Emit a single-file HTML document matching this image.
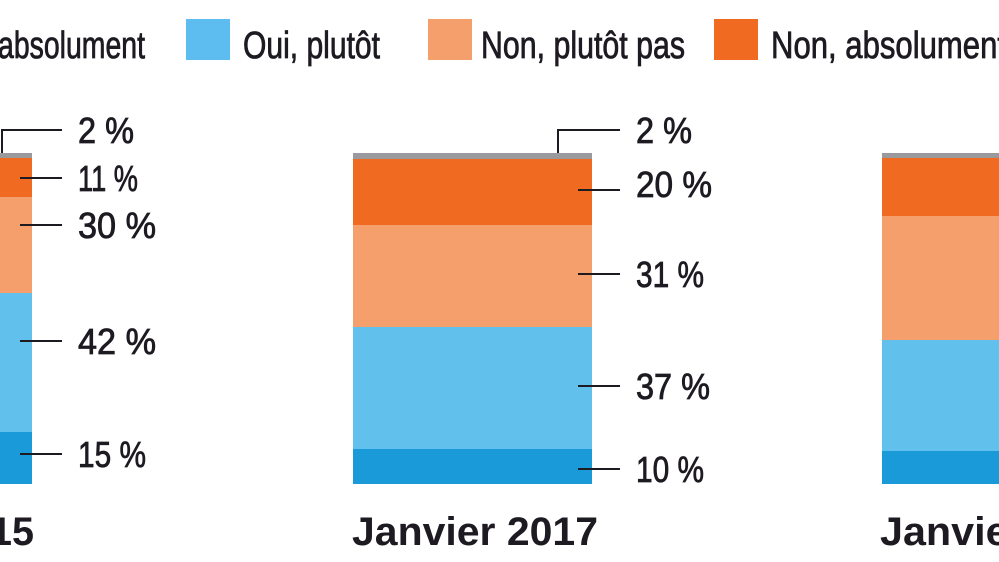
<!DOCTYPE html>
<html><head><meta charset="utf-8"><style>
html,body{margin:0;padding:0;background:#fff;width:999px;height:562px;overflow:hidden}
text{font-family:"Liberation Sans Narrow","Liberation Sans",sans-serif;fill:#1e1a22}
.t{stroke:#1e1a22;stroke-width:0.8}
</style></head><body>
<svg width="999" height="562" viewBox="0 0 999 562" xmlns="http://www.w3.org/2000/svg">
<!-- legend -->
<g class="t">
<text x="-2" y="58" font-size="38" textLength="147" lengthAdjust="spacingAndGlyphs">absolument</text>
<text x="243" y="58" font-size="38" textLength="137" lengthAdjust="spacingAndGlyphs">Oui, plutôt</text>
<text x="481" y="58" font-size="38" textLength="204" lengthAdjust="spacingAndGlyphs">Non, plutôt pas</text>
<text x="771" y="58" font-size="38" textLength="235" lengthAdjust="spacingAndGlyphs">Non, absolument</text>
</g>
<rect x="186" y="19" width="44" height="41" fill="#5dbdf0"/>
<rect x="428" y="19" width="44" height="41" fill="#f5a06c"/>
<rect x="714" y="19" width="44" height="41" fill="#f06a22"/>

<!-- left bar -->
<rect x="-10" y="153" width="42" height="5" fill="#9a9a9e"/>
<rect x="-10" y="158" width="42" height="39" fill="#f06a22"/>
<rect x="-10" y="197" width="42" height="96" fill="#f5a06c"/>
<rect x="-10" y="293" width="42" height="139" fill="#62c0ec"/>
<rect x="-10" y="432" width="42" height="52" fill="#1a9ad8"/>
<g stroke="#1e1a22" stroke-width="2" fill="none">
<path d="M2 153V130H62"/><path d="M20 178H62"/><path d="M20 225H62"/><path d="M20 341H62"/><path d="M20 454H62"/>
</g>
<g font-size="36" class="t">
<text x="78" y="143" textLength="56" lengthAdjust="spacingAndGlyphs">2 %</text>
<text x="78" y="191" textLength="60" lengthAdjust="spacingAndGlyphs">11 %</text>
<text x="78" y="238" textLength="78" lengthAdjust="spacingAndGlyphs">30 %</text>
<text x="78" y="354" textLength="78" lengthAdjust="spacingAndGlyphs">42 %</text>
<text x="78" y="467" textLength="68" lengthAdjust="spacingAndGlyphs">15 %</text>
</g>
<text x="-10" y="545" font-size="40" font-weight="bold" textLength="44" lengthAdjust="spacingAndGlyphs">15</text>

<!-- middle bar -->
<rect x="353" y="153" width="239" height="6" fill="#9a9a9e"/>
<rect x="353" y="159" width="239" height="66" fill="#f06a22"/>
<rect x="353" y="225" width="239" height="102" fill="#f5a06c"/>
<rect x="353" y="327" width="239" height="122" fill="#62c0ec"/>
<rect x="353" y="449" width="239" height="35" fill="#1a9ad8"/>
<g stroke="#1e1a22" stroke-width="2" fill="none">
<path d="M558 153V130H620"/><path d="M578 190H620"/><path d="M578 274H620"/><path d="M578 386H620"/><path d="M578 469H620"/>
</g>
<g font-size="36" class="t">
<text x="636" y="143" textLength="56" lengthAdjust="spacingAndGlyphs">2 %</text>
<text x="636" y="197" textLength="76" lengthAdjust="spacingAndGlyphs">20 %</text>
<text x="636" y="287" textLength="68" lengthAdjust="spacingAndGlyphs">31 %</text>
<text x="636" y="399" textLength="74" lengthAdjust="spacingAndGlyphs">37 %</text>
<text x="636" y="482" textLength="68" lengthAdjust="spacingAndGlyphs">10 %</text>
</g>
<text x="352" y="545" font-size="40" font-weight="bold" textLength="246" lengthAdjust="spacingAndGlyphs">Janvier 2017</text>

<!-- right bar -->
<rect x="882" y="153" width="130" height="5" fill="#9a9a9e"/>
<rect x="882" y="158" width="130" height="58" fill="#f06a22"/>
<rect x="882" y="216" width="130" height="124" fill="#f5a06c"/>
<rect x="882" y="340" width="130" height="111" fill="#62c0ec"/>
<rect x="882" y="451" width="130" height="33" fill="#1a9ad8"/>
<text x="880" y="545" font-size="40" font-weight="bold" textLength="248" lengthAdjust="spacingAndGlyphs">Janvier 2018</text>
</svg>
</body></html>
